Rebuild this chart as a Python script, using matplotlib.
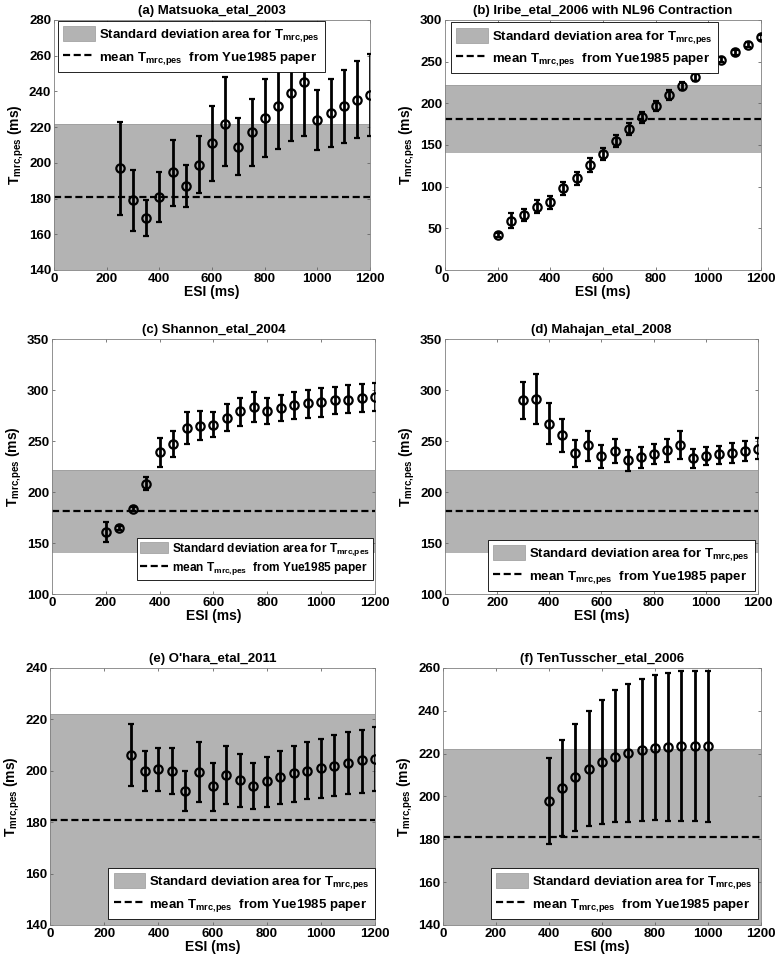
import matplotlib
matplotlib.use("Agg")
import matplotlib.pyplot as plt
from matplotlib.patches import Patch
from matplotlib.lines import Line2D

plt.rcParams['font.family'] = ['Liberation Sans', 'DejaVu Sans']
plt.rcParams['font.weight'] = 'bold'
plt.rcParams['mathtext.fontset'] = 'custom'
plt.rcParams['mathtext.rm'] = 'Liberation Sans:bold'
plt.rcParams['mathtext.it'] = 'Liberation Sans:bold'
plt.rcParams['mathtext.bf'] = 'Liberation Sans:bold'

# Yue1985 reference band
yue_mean = 181
yue_low = 140
yue_high = 222

# (a) Matsuoka_etal_2003
esi_a = [250, 300, 350, 400, 450, 500, 550, 600, 650, 700, 750, 800, 850, 900, 950, 1000, 1050, 1100, 1150, 1200]
mean_a = [197, 179, 169, 181, 195, 187, 199, 211, 222, 209, 217, 225, 232, 239, 245, 224, 228, 232, 235, 238]
lo_a = [171, 162, 159, 167, 176, 175, 183, 190, 198, 193, 198, 203, 208, 212, 215, 207, 209, 211, 214, 215]
hi_a = [223, 196, 179, 195, 213, 199, 215, 232, 248, 225, 236, 247, 256, 266, 275, 241, 247, 252, 257, 261]

# (b) Iribe_etal_2006 with NL96 Contraction
esi_b = [200, 250, 300, 350, 400, 450, 500, 550, 600, 650, 700, 750, 800, 850, 900, 950, 1000, 1050, 1100, 1150, 1200]
mean_b = [42, 59, 66, 76, 81, 98, 110, 126, 139, 155, 169, 183, 197, 210, 221, 232, 242, 252, 261, 270, 279]
lo_b = [40, 50, 59, 68, 73, 90, 102, 118, 132, 148, 162, 176, 191, 204, 216, 227, 238, 249, 258, 267, 276]
hi_b = [44, 68, 73, 84, 89, 106, 118, 134, 146, 162, 176, 190, 203, 216, 226, 237, 246, 255, 264, 273, 282]

# (c) Shannon_etal_2004
esi_c = [200, 250, 300, 350, 400, 450, 500, 550, 600, 650, 700, 750, 800, 850, 900, 950, 1000, 1050, 1100, 1150, 1200]
mean_c = [161, 165, 183, 208, 239, 247, 263, 265, 266, 273, 279, 283, 279, 282, 285, 287, 288, 290, 290, 292, 293]
lo_c = [151, 163, 181, 202, 225, 234, 247, 251, 254, 260, 265, 269, 267, 270, 272, 273, 274, 276, 277, 278, 279]
hi_c = [171, 167, 185, 215, 253, 260, 278, 279, 278, 286, 292, 298, 292, 295, 298, 300, 302, 303, 305, 306, 307]

# (d) Mahajan_etal_2008
esi_d = [300, 350, 400, 450, 500, 550, 600, 650, 700, 750, 800, 850, 900, 950, 1000, 1050, 1100, 1150, 1200]
mean_d = [290, 291, 267, 256, 238, 246, 235, 240, 231, 234, 237, 241, 246, 233, 235, 237, 238, 240, 242]
lo_d = [272, 267, 247, 239, 225, 230, 224, 228, 221, 224, 227, 229, 232, 224, 226, 227, 228, 230, 232]
hi_d = [308, 316, 287, 272, 251, 260, 246, 252, 241, 244, 247, 252, 260, 242, 244, 245, 248, 250, 253]

# (e) O'hara_etal_2011
esi_e = [300, 350, 400, 450, 500, 550, 600, 650, 700, 750, 800, 850, 900, 950, 1000, 1050, 1100, 1150, 1200]
mean_e = [206, 200, 200.5, 200, 192, 199.5, 194, 198.5, 196.5, 194, 196, 197.5, 199, 200, 201, 202, 203, 204, 204.5]
lo_e = [194, 192, 192, 191, 184.5, 188, 184.5, 187, 186, 185, 186, 187, 188, 189, 189.5, 190, 191, 191.5, 192]
hi_e = [218, 207.5, 209, 209, 200, 211, 203, 209.5, 206.5, 203, 205.5, 207.5, 209.5, 211, 212.5, 214, 215, 216, 217]

# (f) TenTusscher_etal_2006
esi_f = [400, 450, 500, 550, 600, 650, 700, 750, 800, 850, 900, 950, 1000]
mean_f = [198, 204, 209, 213, 216, 218.5, 220.5, 221.5, 222.5, 223, 223.5, 223.5, 223.5]
lo_f = [178, 181.5, 184, 186, 187, 188, 188, 188.5, 189, 188.5, 188.5, 188.5, 188]
hi_f = [218, 226.5, 234, 240, 245, 249.5, 252.5, 255, 256.5, 257.5, 258.5, 258.5, 258.5]

titles = ["(a) Matsuoka_etal_2003", "(b) Iribe_etal_2006 with NL96 Contraction",
          "(c) Shannon_etal_2004", "(d) Mahajan_etal_2008",
          "(e) O'hara_etal_2011", "(f) TenTusscher_etal_2006"]
series = [(esi_a, mean_a, lo_a, hi_a), (esi_b, mean_b, lo_b, hi_b),
          (esi_c, mean_c, lo_c, hi_c), (esi_d, mean_d, lo_d, hi_d),
          (esi_e, mean_e, lo_e, hi_e), (esi_f, mean_f, lo_f, hi_f)]
ylims = [(140, 280), (0, 300), (100, 350), (100, 350), (140, 240), (140, 260)]
ytick_steps = [20, 50, 50, 50, 20, 20]
x_ticks = [0, 200, 400, 600, 800, 1000, 1200]

# axes rectangles in figure fraction (left, bottom, width, height)
rects = [
    [0.0695, 0.7185, 0.4067, 0.2607],
    [0.5727, 0.7185, 0.4067, 0.2607],
    [0.0669, 0.3806, 0.4157, 0.2659],
    [0.5727, 0.3806, 0.4028, 0.2659],
    [0.0644, 0.0355, 0.4183, 0.2680],
    [0.5701, 0.0355, 0.4093, 0.2680],
]
# legend placement: (loc, anchor in axes fraction, font size, handleheight, labelspacing, borderpad)
legend_opts = [
    ("upper left", (0.013, 0.996), 9.5, 1.35, 0.35, 0.4),
    ("upper left", (0.019, 0.99), 9.5, 1.35, 0.35, 0.4),
    ("lower right", (0.994, 0.055), 8.6, 1.0, 0.2, 0.25),
    ("lower right", (0.99, 0.012), 9.5, 1.35, 0.35, 0.4),
    ("lower right", (1.0, 0.023), 9.5, 1.35, 0.35, 0.4),
    ("lower right", (0.99, 0.023), 9.5, 1.35, 0.35, 0.4),
]

sub = r"$_{mrc{,}pes}$"
band_color = (0.7, 0.7, 0.7)
dash = (0, (3.2, 1.6))
fig = plt.figure(figsize=(7.77, 9.59), dpi=100)

for i in range(6):
    esi, mean, lo, hi = series[i]
    ax = fig.add_axes(rects[i])
    ax.axhspan(yue_low, yue_high, color=band_color, lw=0, zorder=0)
    ax.axhline(yue_high, color=(0.62, 0.62, 0.62), lw=0.6, zorder=0.5)
    ax.axhline(yue_mean, color="black", ls=dash, lw=1.6, zorder=1)

    err = [[m - l for m, l in zip(mean, lo)], [h - m for m, h in zip(mean, hi)]]
    ax.errorbar(esi, mean, yerr=err, fmt="o", color="black", mfc="none",
                mec="black", ms=6, mew=1.6, elinewidth=2, capsize=2.4,
                capthick=1.6, zorder=3)

    y0, y1 = ylims[i]
    ax.set_xlim(0, 1200)
    ax.set_ylim(y0, y1)
    ax.set_xticks(x_ticks)
    ax.set_yticks(range(y0, y1 + 1, ytick_steps[i]))
    ax.tick_params(direction="in", top=True, right=True, length=2.5,
                   width=0.6, labelsize=9.5, color="0.4")
    ax.tick_params(axis="y", pad=2)
    ax.tick_params(axis="x", pad=2.5)
    for s in ax.spines.values():
        s.set_linewidth(0.6)
        s.set_color("0.5")
    for lab in ax.get_xticklabels() + ax.get_yticklabels():
        lab.set_fontweight("bold")

    ax.set_title(titles[i], fontsize=9.5, fontweight="bold", pad=4)
    ax.set_xlabel("ESI (ms)", fontsize=10, fontweight="bold", labelpad=0)
    ax.set_ylabel("T" + sub + " (ms)", fontsize=10, fontweight="bold", labelpad=2)

    loc, anchor, fs, hh, ls_, bp = legend_opts[i]
    handles = [Patch(facecolor=band_color, edgecolor=(0.6, 0.6, 0.6), lw=0.5),
               Line2D([0], [0], color="black", ls=dash, lw=1.6)]
    labels = ["Standard deviation area for T" + sub,
              "mean T" + sub + "  from Yue1985 paper"]
    leg = ax.legend(handles, labels, loc=loc, bbox_to_anchor=anchor,
                    fontsize=fs, frameon=True, fancybox=False, framealpha=1,
                    edgecolor="black", handlelength=2.4, handleheight=hh,
                    borderaxespad=0, labelspacing=ls_, handletextpad=0.3,
                    borderpad=bp)
    leg.get_frame().set_linewidth(0.6)
    leg.set_zorder(5)
    for t in leg.get_texts():
        t.set_fontweight("bold")

fig.savefig("out.png", dpi=100)
